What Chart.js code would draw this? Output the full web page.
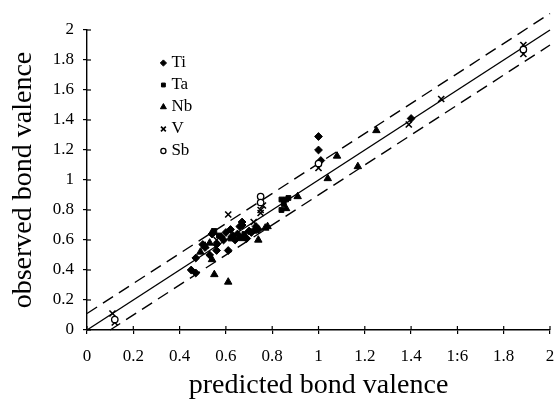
<!DOCTYPE html>
<html>
<head>
<meta charset="utf-8">
<script src="https://cdn.jsdelivr.net/npm/chart.js@4.4.1/dist/chart.umd.min.js"></script>
<style>
  html, body { margin: 0; padding: 0; background: #fff; }
  #wrap { width: 556px; height: 405px; position: relative; }
</style>
</head>
<body>
<div id="wrap"><canvas id="c" width="556" height="405"></canvas></div>
<script>
// ---- data ----
const xTickLabels = ['0','0.2','0.4','0.6','0.8','1','1.2','1.4','1:6','1.8','2'];
const yTickLabels = ['0','0.2','0.4','0.6','0.8','1','1.2','1.4','1.6','1.8','2'];

const seriesNames = ['Ti','Ta','Nb','V','Sb'];

const tiX = [1.00,1.00,1.01,1.40,0.45,0.47,0.47,0.50,0.51,0.54,0.56,0.56,0.58,0.59,0.61,0.62,0.63,0.65,0.66,0.67,0.67,0.68,0.69,0.70,0.71,0.73,0.74,0.64,0.60,0.53];
const tiY = [1.29,1.20,1.13,1.41,0.40,0.38,0.48,0.57,0.55,0.64,0.53,0.57,0.62,0.60,0.53,0.67,0.63,0.64,0.69,0.72,0.70,0.62,0.61,0.66,0.65,0.69,0.67,0.60,0.65,0.50];

const taX = [0.84,0.85,0.84,0.86,0.87,0.55,0.57,0.66,0.68,0.62];
const taY = [0.87,0.84,0.80,0.87,0.88,0.66,0.63,0.62,0.64,0.61];

const nbX = [1.04,1.08,1.25,1.17,0.91,0.77,0.74,0.55,0.61,0.54,0.51,0.54,0.53,0.78,0.72,0.49,0.67,0.86];
const nbY = [1.01,1.16,1.33,1.09,0.89,0.68,0.60,0.37,0.32,0.47,0.56,0.65,0.58,0.69,0.66,0.52,0.61,0.81];

const vX = [0.11,0.12,0.61,0.75,0.75,0.76,1.00,1.39,1.53,1.885,1.885,0.72,0.56];
const vY = [0.11,0.05,0.77,0.80,0.78,0.83,1.08,1.37,1.54,1.90,1.84,0.72,0.60];

const sbX = [0.12,0.75,0.75,1.00,1.885];
const sbY = [0.07,0.89,0.85,1.11,1.87];

// reference lines: y = x and the +/- band
const idealX = [0, 2];
const idealY = [0, 2];
const upperX = [0, 2];
const upperY = [0.11, 2.11];
const lowerX = [0.1, 2];
const lowerY = [0, 1.9];

// ---- build ----
const zip = (xs, ys) => xs.map((x, i) => ({x: x, y: ys[i]}));
const FONT = "'Liberation Serif', 'Times New Roman', serif";

const styles = {
  Ti: {pointStyle: 'rectRot', radius: 3.9, backgroundColor: '#000', borderColor: '#000', borderWidth: 1},
  Ta: {pointStyle: 'rect', radius: 3.4, backgroundColor: '#000', borderColor: '#000', borderWidth: 1},
  Nb: {pointStyle: 'triangle', radius: 4.3, backgroundColor: '#000', borderColor: '#000', borderWidth: 1},
  V:  {pointStyle: 'crossRot', radius: 4.3, backgroundColor: '#000', borderColor: '#000', borderWidth: 1.6},
  Sb: {pointStyle: 'circle', radius: 3.2, backgroundColor: '#fff', borderColor: '#000', borderWidth: 1.3}
};
const seriesData = {Ti: zip(tiX, tiY), Ta: zip(taX, taY), Nb: zip(nbX, nbY), V: zip(vX, vY), Sb: zip(sbX, sbY)};

const datasets = [];
['Sb','V','Ti','Ta','Nb'].forEach(name => {
  const s = styles[name];
  datasets.push({
    type: 'scatter', label: name, data: seriesData[name],
    pointStyle: s.pointStyle, pointRadius: s.radius, pointHoverRadius: s.radius,
    pointBackgroundColor: s.backgroundColor, pointBorderColor: s.borderColor,
    pointBorderWidth: s.borderWidth, showLine: false, order: 1, clip: false
  });
});
const lineDefs = [
  {label: 'ideal', data: zip(idealX, idealY), dash: []},
  {label: 'upper', data: zip(upperX, upperY), dash: [12, 7]},
  {label: 'lower', data: zip(lowerX, lowerY), dash: [12, 7]}
];
lineDefs.forEach(l => datasets.push({
  type: 'line', label: l.label, data: l.data, borderColor: '#000', borderWidth: 1.4,
  borderDash: l.dash, pointRadius: 0, fill: false, tension: 0, order: 5, clip: false
}));

const innerTicks = {
  id: 'innerTicks',
  afterDraw(chart) {
    const ctx = chart.ctx, xs = chart.scales.x, ys = chart.scales.y, a = chart.chartArea;
    ctx.save();
    ctx.strokeStyle = '#000'; ctx.lineWidth = 1.2;
    for (let i = 0; i < xTickLabels.length; i++) {
      const px = xs.getPixelForValue(i * 0.2);
      ctx.beginPath(); ctx.moveTo(px, a.bottom); ctx.lineTo(px, a.bottom - 4); ctx.stroke();
    }
    for (let i = 0; i < yTickLabels.length; i++) {
      const py = ys.getPixelForValue(i * 0.2);
      ctx.beginPath(); ctx.moveTo(a.left, py); ctx.lineTo(a.left + 4, py); ctx.stroke();
    }
    // legend inside the plot
    const lx = xs.getPixelForValue(0.33), ly0 = ys.getPixelForValue(1.78), step = 22;
    ctx.font = '17px ' + FONT;
    ctx.textBaseline = 'middle';
    ctx.textAlign = 'left';
    seriesNames.forEach((name, i) => {
      const s = styles[name];
      const y = ly0 + i * step;
      ctx.fillStyle = s.backgroundColor; ctx.strokeStyle = s.borderColor;
      ctx.lineWidth = s.borderWidth;
      Chart.helpers.drawPoint(ctx, {pointStyle: s.pointStyle, radius: s.radius * 0.8, rotation: 0, borderWidth: s.borderWidth}, lx, y);
      ctx.fillStyle = '#000';
      ctx.fillText(name, lx + 8, y);
    });
    ctx.restore();
  }
};

new Chart(document.getElementById('c'), {
  data: {datasets: datasets},
  options: {
    responsive: false,
    animation: false,
    events: [],
    layout: {padding: {top: 30, right: 6, left: 0, bottom: 0}},
    plugins: {legend: {display: false}, tooltip: {enabled: false}},
    scales: {
      x: {
        type: 'linear', min: 0, max: 2,
        afterFit(s) { s.height = 75; s.paddingLeft = 0; s.paddingRight = 0; },
        ticks: {stepSize: 0.2, color: '#000', padding: 12, maxRotation: 0, autoSkip: false,
          font: {family: FONT, size: 17},
          callback: (v, i) => xTickLabels[i]},
        grid: {display: true, drawOnChartArea: false, drawTicks: true, tickLength: 4, color: '#000', lineWidth: 1.2},
        border: {display: true, color: '#000', width: 1.4},
        title: {display: true, text: 'predicted bond valence', color: '#000',
          font: {family: FONT, size: 28, lineHeight: 1.2}, padding: 3}
      },
      y: {
        type: 'linear', min: 0, max: 2,
        afterFit(s) { s.width = 87; s.paddingTop = 0; s.paddingBottom = 0; },
        ticks: {stepSize: 0.2, color: '#000', padding: 9, autoSkip: false,
          font: {family: FONT, size: 17},
          callback: (v, i) => yTickLabels[i]},
        grid: {display: true, drawOnChartArea: false, drawTicks: true, tickLength: 4, color: '#000', lineWidth: 1.2},
        border: {display: true, color: '#000', width: 1.4},
        title: {display: true, text: 'observed bond valence', color: '#000',
          font: {family: FONT, size: 28, lineHeight: 1.2}, padding: 7}
      }
    }
  },
  plugins: [innerTicks]
});
</script>
</body>
</html>
